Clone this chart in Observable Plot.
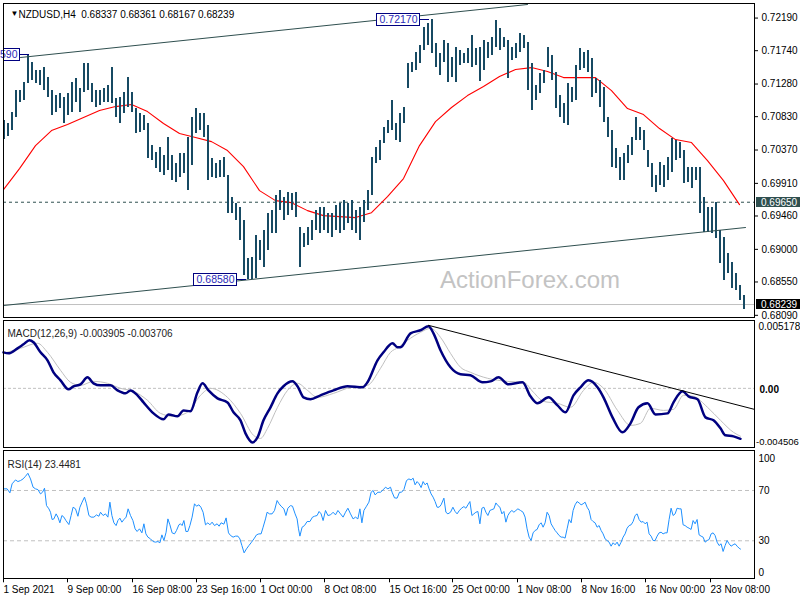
<!DOCTYPE html>
<html><head><meta charset="utf-8">
<script src="https://cdn.jsdelivr.net/npm/d3@7"></script>
<script src="https://cdn.jsdelivr.net/npm/@observablehq/plot@0.6"></script>
<style>
body{margin:0;background:#fff;}
#chart{position:relative;width:800px;height:600px;background:#fff;overflow:hidden;}
#chart svg{position:absolute;left:0;top:0;}
</style></head><body><div id="chart"></div>
<script>
// ---------- DATA ----------
const titleText = "NZDUSD,H4\u00a0\u00a00.68337 0.68361 0.68167 0.68239";
const macdTitle = "MACD(12,26,9) -0.003905 -0.003706";
const rsiTitle = "RSI(14) 23.4481";
const watermarkText = "ActionForex.com";

// H4 price bars, one per two bars (time unit = H4 bar number)
const barHigh = [
0.70776,0.70735,0.70887,0.71190,0.71190,0.71300,0.71690,0.71576,0.71466,0.71466,
0.71507,0.71369,0.71190,0.71121,0.71149,0.71093,0.71149,0.71300,0.71356,0.71218,
0.71563,0.71563,0.71287,0.71190,0.71190,0.71218,0.71259,0.71507,0.71080,0.71093,
0.71162,0.71369,0.71162,0.70942,0.70873,0.70845,0.70735,0.70431,0.70334,0.70404,
0.70293,0.70542,0.70293,0.70183,0.70321,0.70321,0.70542,0.70818,0.70942,0.70873,
0.70873,0.70707,0.70252,0.70183,0.70224,0.70266,0.70017,0.69714,0.69631,0.69576,
0.69396,0.68872,0.68886,0.69189,0.69120,0.69258,0.69493,0.69534,0.69741,0.69810,
0.69714,0.69782,0.69769,0.69782,0.69300,0.69217,0.69300,0.69396,0.69534,0.69576,
0.69576,0.69493,0.69493,0.69603,0.69631,0.69672,0.69631,0.69672,0.69534,0.69576,
0.69672,0.69810,0.70266,0.70404,0.70500,0.70680,0.70776,0.71052,0.70735,0.70873,
0.70956,0.71563,0.71576,0.71714,0.71811,0.72059,0.72115,0.72170,0.71839,0.71701,
0.71880,0.71839,0.71645,0.71783,0.71742,0.71701,0.71770,0.71949,0.71770,0.71783,
0.71880,0.71852,0.71921,0.72150,0.72045,0.71921,0.71880,0.71783,0.71839,0.71977,
0.71949,0.71852,0.71563,0.71259,0.71425,0.71466,0.71783,0.71673,0.71438,0.71121,
0.71011,0.71287,0.71231,0.71535,0.71770,0.71714,0.71742,0.71632,0.71356,0.71328,
0.71231,0.70818,0.70638,0.70390,0.70266,0.70321,0.70431,0.70542,0.70818,0.70680,
0.70638,0.70362,0.70183,0.70017,0.70196,0.70155,0.70266,0.70528,0.70500,0.70473,
0.70362,0.70128,0.70128,0.70128,0.70128,0.69714,0.69576,0.69576,0.69644,0.69258,
0.69161,0.68941,0.68816,0.68665,0.68499,0.68361];
const barLow = [
0.70514,0.70555,0.70638,0.70818,0.71024,0.71052,0.71287,0.71328,0.71287,0.71259,
0.71190,0.71093,0.70845,0.70887,0.70942,0.70735,0.70845,0.70887,0.71024,0.70887,
0.71162,0.71190,0.71024,0.70956,0.70983,0.71024,0.71024,0.71011,0.70818,0.70735,
0.70873,0.70956,0.70887,0.70597,0.70611,0.70638,0.70252,0.70224,0.70114,0.70058,
0.70017,0.70086,0.69948,0.69920,0.69990,0.70045,0.69810,0.70155,0.70597,0.70638,
0.70542,0.69948,0.69990,0.69976,0.69990,0.69990,0.69493,0.69493,0.69396,0.69120,
0.68637,0.68590,0.68580,0.68600,0.68844,0.68748,0.68982,0.69217,0.69217,0.69534,
0.69396,0.69465,0.69534,0.69438,0.68748,0.69024,0.69051,0.69120,0.69258,0.69217,
0.69258,0.69217,0.69161,0.69258,0.69217,0.69258,0.69355,0.69258,0.69217,0.69120,
0.69368,0.69534,0.69741,0.70183,0.70224,0.70459,0.70597,0.70638,0.70500,0.70473,
0.70735,0.71218,0.71438,0.71466,0.71563,0.71742,0.71811,0.71701,0.71507,0.71397,
0.71576,0.71300,0.71369,0.71300,0.71535,0.71563,0.71563,0.71507,0.71535,0.71314,
0.71466,0.71632,0.71673,0.71783,0.71742,0.71783,0.71356,0.71604,0.71632,0.71714,
0.71770,0.71190,0.70914,0.71052,0.71149,0.71287,0.71507,0.71328,0.70942,0.70818,
0.70735,0.70707,0.71024,0.71052,0.71466,0.71494,0.71438,0.71093,0.71149,0.70956,
0.70748,0.70542,0.70128,0.70114,0.69948,0.69948,0.70183,0.70293,0.70500,0.70500,
0.70362,0.70128,0.69852,0.69782,0.69879,0.69852,0.69948,0.70058,0.70224,0.70252,
0.69907,0.69920,0.69838,0.69948,0.69493,0.69230,0.69230,0.69217,0.69148,0.68803,
0.68568,0.68665,0.68458,0.68430,0.68292,0.68167];

// moving average (red), one value every 8 bars
const maValue = [
0.69824,0.70114,0.70431,0.70638,0.70721,0.70818,0.70914,0.70969,0.70997,0.70900,
0.70735,0.70597,0.70542,0.70486,0.70362,0.70141,0.69810,0.69672,0.69644,0.69534,
0.69465,0.69451,0.69438,0.69506,0.69727,0.69976,0.70431,0.70762,0.70956,0.71121,
0.71245,0.71383,0.71480,0.71507,0.71452,0.71369,0.71369,0.71369,0.71190,0.70942,
0.70859,0.70666,0.70514,0.70473,0.70224,0.69948,0.69617];

// channel trend lines
const upperBar = [8.5, 262];
const upperPrice = [0.71646, 0.72377];
const lowerBar = [0, 371];
const lowerPrice = [0.68225, 0.69301];

// horizontal levels
const levelPrice = 0.69650;
const lastPrice = 0.68239;

// price labels on chart (the first one is cut by the left edge: only "590" shows)
const tagBar = [13, 213, 121.5];
const tagPrice = [0.71690, 0.72170, 0.68580];
const tagText = ["590", "0.72170", "0.68580"];

// price axis
const priceTicks = [0.72190,0.71740,0.71280,0.70830,0.70370,0.69910,0.69460,0.69000,0.68550,0.68090];

// MACD
const macdBar = [0,2.5,7,10,13,15,18.5,22,25,28.5,
32.5,35,38.5,42,45,48.5,53.5,57,61,63.5,
67,70,75,80,82.5,87,90,93.5,97,99.5,
102.5,107,112,115,118.5,121,124.5,127,130,133.5,
137,140,144.5,147,150,153.5,158.5,165,172,179.5,
182,187,190,194.5,197,198.5,203.5,208.5,212.5,215,
218.5,223.5,228.5,233.5,239.5,243.5,247.5,252.5,259.5,263.5,
267,272.5,277,281,285,288.5,292.5,297,300,304.5,
309.5,313.5,317.5,322,326,332,335,339.5,342.5,347,
351,355,358.5,361,365,368.5];
const macdVal = [0.00279,0.00271,0.00310,0.00341,0.00372,0.00357,0.00279,0.00217,0.00124,0.00062,
-0.00008,0.00016,0.00031,0.00085,0.00039,0.00023,0.00023,-0.00016,-0.00039,-0.00016,
-0.00054,-0.00109,-0.00194,-0.00240,-0.00202,-0.00217,-0.00171,-0.00178,-0.00031,0.00039,
-0.00016,-0.00078,-0.00109,-0.00186,-0.00248,-0.00349,-0.00419,-0.00380,-0.00248,-0.00147,
-0.00039,0.00016,0.00054,0.00016,-0.00070,-0.00085,-0.00054,-0.00016,0.00016,0.00008,
0.00047,0.00217,0.00279,0.00349,0.00318,0.00318,0.00426,0.00450,0.00481,0.00426,
0.00295,0.00163,0.00109,0.00101,0.00047,0.00054,0.00085,0.00031,0.00047,-0.00062,
-0.00116,-0.00070,-0.00132,-0.00186,-0.00054,0.00008,0.00062,0.00008,-0.00070,-0.00225,
-0.00341,-0.00271,-0.00147,-0.00116,-0.00202,-0.00194,-0.00109,-0.00023,-0.00062,-0.00085,
-0.00225,-0.00248,-0.00310,-0.00364,-0.00372,-0.00391];
const signalBar = [0,8.5,17,22,28.5,33.5,38.5,45,52,58.5,
65,72,78.5,85,92,98.5,103.5,112,118.5,125,
128.5,132,137,142,147,152,157,165,173.5,182,
188.5,193.5,197.5,202,208.5,213.5,218.5,223.5,228.5,233.5,
242,252,260,265,270,277,283.5,290,295,300,
307,313.5,318.5,323.5,330,335,340,345,352,358.5,
365,368.5];
const signalVal = [0.00271,0.00310,0.00349,0.00279,0.00140,0.00047,0.00023,0.00054,0.00039,0.00000,
-0.00023,-0.00093,-0.00194,-0.00217,-0.00186,-0.00054,0.00000,-0.00070,-0.00194,-0.00364,
-0.00388,-0.00310,-0.00147,-0.00016,0.00039,-0.00016,-0.00070,-0.00039,0.00008,0.00023,
0.00155,0.00279,0.00318,0.00372,0.00434,0.00465,0.00395,0.00271,0.00163,0.00124,
0.00078,0.00054,0.00047,-0.00031,-0.00101,-0.00116,-0.00147,-0.00016,0.00047,0.00000,
-0.00171,-0.00287,-0.00271,-0.00155,-0.00171,-0.00163,-0.00054,-0.00062,-0.00147,-0.00248,
-0.00341,-0.00371];
const macdTrendBar = [212.5, 375.5];
const macdTrendVal = [0.00488, -0.00163];
const macdAxisVal = [0.005178, 0, -0.004506];
const macdAxisText = ["0.005178", "0.00", "-0.004506"];

// RSI
const rsiBar = [0,1.8,3.2,4.3,6.0,7.2,8.5,9.8,11.0,12.2,
13.5,14.8,16.0,17.2,18.5,19.5,20.5,21.5,22.7,23.5,
24.3,25.2,26.3,27.2,28.2,29.2,30.2,31.2,32.7,33.8,
34.8,36.0,37.2,38.2,39.3,40.5,41.5,42.7,43.8,45.2,
46.5,47.7,48.5,49.8,51.0,52.2,53.2,54.2,55.2,56.3,
57.2,58.2,59.2,60.2,61.3,62.3,63.5,64.7,65.8,66.8,
68.0,69.2,70.2,71.2,72.2,73.5,74.8,76.0,77.2,78.2,
79.2,80.2,81.3,82.2,83.2,84.3,85.5,86.5,87.7,88.5,
89.3,90.2,91.2,92.2,93.2,94.3,95.5,96.5,97.7,98.7,
99.8,101.0,102.2,103.2,104.3,105.5,106.8,107.8,108.8,110.2,
111.3,112.5,113.5,114.8,116.0,117.2,118.2,119.2,120.3,121.5,
122.7,123.8,125.2,126.5,127.7,128.8,129.8,131.0,131.8,133.0,
134.3,135.5,136.8,137.8,138.8,140.2,141.2,142.2,143.5,144.5,
145.8,146.8,147.5,148.2,149.3,150.5,151.8,153.2,154.5,155.5,
156.8,157.8,158.8,159.8,161.0,162.2,163.5,164.8,166.0,167.2,
168.5,169.8,171.0,172.2,173.5,174.8,176.0,177.2,178.2,179.2,
180.2,181.5,182.7,183.8,184.8,185.8,187.2,188.5,189.8,191.0,
192.2,193.5,194.3,195.5,196.8,198.0,
199.0,200.2,201.5,202.7,203.8,204.8,205.8,206.8,207.8,208.8,
209.8,210.8,211.8,212.8,213.8,214.8,215.8,216.8,217.8,218.8,
220.2,221.2,222.2,223.5,224.7,225.8,226.8,227.8,229.0,230.2,
231.2,232.2,233.2,234.2,235.2,236.2,237.2,238.2,239.2,240.2,
241.2,242.2,243.2,244.2,245.2,246.2,247.2,248.2,249.2,250.2,
251.2,252.2,253.2,254.2,255.2,256.2,257.2,258.5,259.8,260.8,
261.8,262.8,263.8,264.8,265.8,266.8,267.8,268.8,269.8,270.8,
271.8,272.8,273.8,274.8,275.8,276.8,277.8,278.8,279.8,280.8,
281.8,282.8,283.8,284.8,285.8,286.8,287.8,288.8,289.8,290.8,
291.8,292.8,293.8,294.8,295.8,296.8,297.8,298.8,299.8,300.8,
301.8,302.8,303.8,304.8,305.8,306.8,307.8,308.8,309.8,310.8,
311.8,312.8,313.8,314.8,315.8,316.8,317.8,318.8,319.8,320.8,
321.8,322.8,323.8,324.8,325.8,326.8,327.8,328.8,329.8,330.8,
331.8,332.8,333.8,334.8,335.8,336.8,337.8,338.8,339.8,340.8,
341.8,342.8,343.8,344.8,345.8,346.8,347.8,348.8,349.8,350.8,
351.8,352.8,353.8,354.8,355.8,356.8,357.8,358.8,359.8,360.8,
361.8,362.8,363.8,364.8,365.8,366.8,367.8,368.5];
const rsiVal = [71.3,71.3,68.1,75.3,78.4,77.1,77.9,79.2,81.3,83.7,
79.2,72.6,71.3,70.7,67.3,68.6,71.8,58.0,55.4,52.7,
46.9,47.4,51.4,48.8,44.3,50.1,48.8,46.1,42.9,50.1,
56.7,55.4,49.5,56.7,60.7,64.7,59.4,50.1,48.8,48.8,
50.6,49.5,52.7,50.1,51.4,48.8,60.7,50.1,44.3,42.1,
46.1,48.0,44.8,46.9,48.8,55.4,50.1,46.1,39.5,37.4,
39.5,36.3,43.5,35.5,32.9,31.5,29.4,28.9,29.4,28.4,
34.7,30.2,36.8,47.4,42.7,36.3,35.5,38.2,42.7,43.5,
42.1,46.1,37.4,37.4,42.1,48.8,59.4,57.5,58.6,56.7,
52.7,42.7,44.3,42.7,44.8,42.1,43.5,41.6,44.3,43.2,
48.2,36.3,34.2,32.9,33.7,33.7,31.5,26.2,20.4,23.6,
26.2,28.4,31.5,34.7,35.5,35.5,40.8,47.4,52.7,51.4,
51.4,54.1,62.0,59.4,57.5,55.4,50.1,55.9,58.0,57.5,
51.4,47.4,39.5,33.7,40.8,42.1,45.3,45.3,48.8,49.5,
50.1,53.3,51.4,46.1,54.1,50.1,50.6,52.7,50.6,54.1,
51.4,48.8,52.7,55.9,51.4,47.4,48.8,47.4,55.4,44.3,
54.1,57.5,60.7,68.6,70.0,66.5,68.6,68.6,70.5,72.6,
71.3,72.6,68.6,64.1,63.9,68.6,
68.6,70.7,77.9,79.2,78.4,79.8,74.5,77.1,75.3,72.3,
77.1,74.5,76.0,71.3,67.3,64.7,61.2,56.7,56.7,58.6,
63.9,52.7,51.4,52.7,56.7,53.3,51.4,53.8,55.9,57.2,
55.9,58.6,61.2,50.1,51.4,52.7,53.3,43.5,55.9,56.7,
52.7,50.1,54.1,54.8,55.4,60.1,58.0,56.7,51.4,53.3,
44.8,50.1,52.7,54.1,52.7,54.1,55.4,54.1,52.7,48.8,
39.5,32.9,30.2,36.3,38.2,39.0,42.7,44.3,40.8,44.3,
52.7,50.1,43.5,40.8,38.2,36.3,34.2,32.9,32.9,32.1,
39.5,46.9,44.3,54.1,58.6,61.2,60.1,58.6,59.4,60.7,
56.7,54.1,46.9,45.3,44.3,40.8,42.1,38.2,35.5,31.5,
30.2,28.9,25.7,28.4,26.8,28.9,25.7,28.9,32.9,35.5,
40.0,42.1,42.7,45.3,50.1,51.4,46.9,44.8,45.3,43.5,
44.8,35.5,33.7,30.2,30.2,33.7,36.3,36.8,35.5,36.3,
36.3,46.9,55.9,50.1,51.4,55.9,55.4,55.4,42.7,42.1,
40.8,40.0,39.0,46.1,43.5,46.9,34.7,33.7,32.9,28.9,
30.2,31.0,35.5,36.3,34.2,28.9,26.2,27.6,21.5,26.2,
30.2,27.6,25.7,26.8,27.6,25.7,24.1,23.4];
const rsiLevels = [70, 30];
const rsiAxisVal = [100, 70, 30, 0];
const rsiAxisText = ["100", "70", "30", "0"];

// time axis
const timeTickBar = [0,32,64.5,96.5,128.5,160.5,193,224.5,257,289,321,353.5];
const timeTickText = ["1 Sep 2021","9 Sep 00:00","16 Sep 08:00","23 Sep 16:00","1 Oct 00:00","8 Oct 08:00","15 Oct 16:00","25 Oct 00:00","1 Nov 08:00","8 Nov 16:00","16 Nov 00:00","23 Nov 08:00"];

// ---------- DRAWING ----------
const FONT = "'Liberation Sans', Arial, sans-serif";
const W = 800, H = 600;
const xDomain = [0, 375.5];
const base = {width: W, height: H, marginLeft: 3, marginRight: 46,
  style: {background: "transparent", fontFamily: FONT, fontSize: "10px", color: "black"}};

const bars = barHigh.map((h, i) => ({t: i * 2, high: h, low: barLow[i]}));
const ma = maValue.map((v, i) => ({t: i * 8, v}));
const upper = upperBar.map((t, i) => ({t, v: upperPrice[i]}));
const lower = lowerBar.map((t, i) => ({t, v: lowerPrice[i]}));
const macd = macdBar.map((t, i) => ({t, v: macdVal[i]}));
const signal = signalBar.map((t, i) => ({t, v: signalVal[i]}));
const macdTrend = macdTrendBar.map((t, i) => ({t, v: macdTrendVal[i]}));
const rsi = rsiBar.map((t, i) => ({t, v: rsiVal[i]}));

function sxOf(scales) { return typeof scales.x === "function" ? scales.x : scales.scales.x.apply; }
function syOf(scales) { return typeof scales.y === "function" ? scales.y : scales.scales.y.apply; }

// boxed price tags attached to bars
function tagMark(index, scales, values, dims) {
  const sx = sxOf(scales), sy = syOf(scales);
  const g = d3.create("svg:g");
  const left0 = dims.marginLeft;
  tagBar.forEach((b, i) => {
    const x = Math.round(sx(b)), y = Math.round(sy(tagPrice[i])) + 0.5;
    const right = x - 10;
    const boxLeft = Math.max(right - 43, left0);
    g.append("line").attr("x1", right).attr("x2", x).attr("y1", y).attr("y2", y)
      .attr("stroke", "#000080");
    g.append("rect").attr("x", boxLeft + 0.5).attr("y", y - 6).attr("width", right - boxLeft).attr("height", 12)
      .attr("fill", "white").attr("stroke", "#000080");
    g.append("text").attr("x", right - 1.5).attr("y", y).attr("dy", "0.35em")
      .attr("text-anchor", "end").attr("fill", "#2a2ab8").attr("font-size", 10.5).text(tagText[i]);
  });
  return g.node();
}

// price boxes on the axis
function axisBoxMark(index, scales, values, dims) {
  const sy = syOf(scales);
  const g = d3.create("svg:g");
  const x0 = dims.width - dims.marginRight + 2;
  [[levelPrice, "#2f4f4f"], [lastPrice, "#000000"]].forEach(([p, fill]) => {
    const y = Math.round(sy(p));
    g.append("rect").attr("x", x0).attr("y", y - 5).attr("width", dims.width - x0).attr("height", 10).attr("fill", fill);
    g.append("text").attr("x", x0 + 5).attr("y", y).attr("dy", "0.35em").attr("text-anchor", "start")
      .attr("fill", "white").text(p.toFixed(5));
  });
  return g.node();
}

const mainPlot = Plot.plot({
  ...base, marginTop: 2.7, marginBottom: 283,
  x: {domain: xDomain, axis: null, label: null},
  y: {domain: [0.68060, 0.72395], label: null},
  marks: [
    Plot.text([watermarkText], {text: d => d, frameAnchor: "middle", dx: 151, dy: 120, fontSize: 24, fill: "#c3c3c3"}),
    Plot.ruleY([levelPrice], {stroke: "#2f4f4f", strokeDasharray: "3,3"}),
    Plot.ruleY([lastPrice], {stroke: "#c0c0c0"}),
    Plot.line(ma, {x: "t", y: "v", stroke: "#ff0000", strokeWidth: 1.1, clip: true}),
    Plot.ruleX(bars, {x: "t", y1: "low", y2: "high", stroke: "#174a63", strokeWidth: 2, shapeRendering: "crispEdges"}),
    Plot.line(upper, {x: "t", y: "v", stroke: "#2f4f4f", strokeWidth: 1, clip: true}),
    Plot.line(lower, {x: "t", y: "v", stroke: "#2f4f4f", strokeWidth: 1, clip: true}),
    tagMark,
    Plot.frame({stroke: "black", shapeRendering: "crispEdges"}),
    Plot.axisY({anchor: "right", ticks: priceTicks, tickFormat: d => d.toFixed(5), tickSize: 3, tickPadding: 4, label: null}),
    axisBoxMark,
    Plot.text(["\u25BC"], {text: d => d, frameAnchor: "top-left", dx: 7, dy: 7.5, fontSize: 8, fill: "black"}),
    Plot.text([titleText], {text: d => d, frameAnchor: "top-left", dx: 15, dy: 7.5, textAnchor: "start", fill: "black"})
  ]
});

const macdPlot = Plot.plot({
  ...base, marginTop: 319.5, marginBottom: 152.7,
  x: {domain: xDomain, axis: null, label: null},
  y: {domain: [-0.004607, 0.005294], axis: null, label: null},
  marks: [
    Plot.ruleY([0], {stroke: "#c0c0c0", strokeDasharray: "3,2"}),
    Plot.line(signal, {x: "t", y: "v", stroke: "#c0c0c0", strokeWidth: 1, curve: "monotone-x"}),
    Plot.line(macd, {x: "t", y: "v", stroke: "#000080", strokeWidth: 2.5, curve: "monotone-x"}),
    Plot.line(macdTrend, {x: "t", y: "v", stroke: "black", strokeWidth: 1, clip: true}),
    Plot.frame({stroke: "black", shapeRendering: "crispEdges"}),
    Plot.text([macdTitle], {text: d => d, frameAnchor: "top-left", dx: 4, dy: 9.5, textAnchor: "start", fill: "#222"}),
    Plot.text([0], {text: () => macdAxisText[0], y: () => macdAxisVal[0], frameAnchor: "right", dx: 4, dy: 5, textAnchor: "start"}),
    Plot.text([1], {text: () => macdAxisText[1], y: () => macdAxisVal[1], frameAnchor: "right", dx: 5, dy: 1, textAnchor: "start", fontWeight: "bold"}),
    Plot.text([2], {text: () => macdAxisText[2], y: () => macdAxisVal[2], frameAnchor: "right", dx: 1.5, dy: -5, textAnchor: "start", fontSize: 9.5})
  ]
});

const rsiOffsets = [6, 0, 0, -6];
const rsiPlot = Plot.plot({
  ...base, marginTop: 450, marginBottom: 21.7,
  x: {domain: xDomain, label: null},
  y: {domain: [-0.24, 101.8], axis: null, label: null},
  marks: [
    Plot.ruleY(rsiLevels, {stroke: "#c0c0c0", strokeDasharray: "4,3"}),
    Plot.line(rsi, {x: "t", y: "v", stroke: "#1e90ff", strokeWidth: 1}),
    Plot.frame({stroke: "black", shapeRendering: "crispEdges"}),
    Plot.text([rsiTitle], {text: d => d, frameAnchor: "top-left", dx: 4, dy: 10, textAnchor: "start", fill: "#222"}),
    ...rsiAxisVal.map((v, i) => Plot.text([v], {text: () => rsiAxisText[i], y: d => d, frameAnchor: "right", dx: 4, dy: rsiOffsets[i], textAnchor: "start"})),
    Plot.axisX({anchor: "bottom", ticks: timeTickBar, tickFormat: d => timeTickText[timeTickBar.indexOf(d)], tickSize: 4, tickPadding: 3, textAnchor: "start", label: null})
  ]
});

const chart = document.getElementById("chart");
chart.append(mainPlot, macdPlot, rsiPlot);
</script>
</body></html>
